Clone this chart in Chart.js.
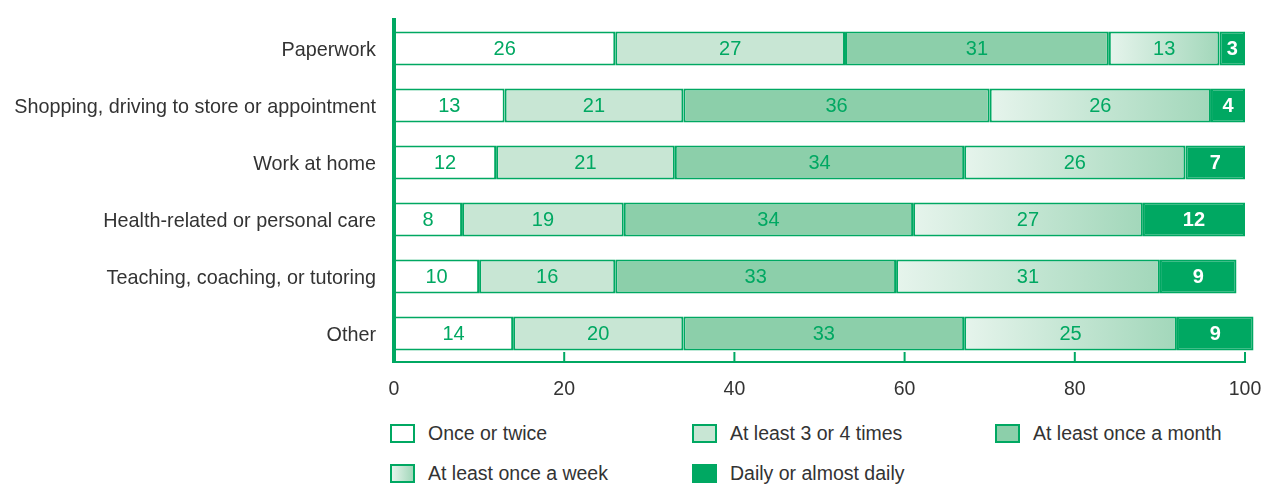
<!DOCTYPE html>
<html>
<head>
<meta charset="utf-8">
<script src="https://cdn.jsdelivr.net/npm/chart.js@4.4.1/dist/chart.umd.min.js"></script>
<style>
  body { margin: 0; background: #fff; }
  #wrap { position: relative; width: 1267px; height: 485px; overflow: hidden; }
  #chart { position: absolute; left: 0; top: 0; }
  #legend {
    position: absolute; left: 390px; top: 424px; width: 877px;
    display: grid; grid-template-columns: 302px 303px 272px; row-gap: 21px;
    font: 19.5px "Liberation Sans", Arial, sans-serif; color: #333;
  }
  .item { display: flex; align-items: center; height: 19px; white-space: nowrap; }
  .box { width: 21px; height: 15px; border: 2px solid #00a862; margin-right: 13px; flex: none; }
</style>
</head>
<body>
<div id="wrap">
  <canvas id="chart" width="1267" height="410"></canvas>
  <div id="legend"></div>
</div>
<script>
const categories = [
  "Paperwork",
  "Shopping, driving to store or appointment",
  "Work at home",
  "Health-related or personal care",
  "Teaching, coaching, or tutoring",
  "Other",
];
const seriesNames = [
  "Once or twice",
  "At least 3 or 4 times",
  "At least once a month",
  "At least once a week",
  "Daily or almost daily",
];
const onceOrTwice = [26, 13, 12, 8, 10, 14];
const threeOrFour = [27, 21, 21, 19, 16, 20];
const onceAMonth = [31, 36, 34, 34, 33, 33];
const onceAWeek = [13, 26, 26, 27, 31, 25];
const daily = [3, 4, 7, 12, 9, 9];
const xTicks = [0, 20, 40, 60, 80, 100];

const GREEN = "#00a862";
const TEXT = "#333333";
const FONT = '"Liberation Sans", Arial, sans-serif';

// horizontal light-to-darker fade inside each "once a week" segment
function weekGradient(ctx) {
  const chart = ctx.chart;
  const x = chart.scales.x;
  if (!x || ctx.type !== "data") return "#c4e5d2";
  const i = ctx.dataIndex;
  const start = onceOrTwice[i] + threeOrFour[i] + onceAMonth[i];
  const x0 = x.getPixelForValue(start);
  const x1 = x.getPixelForValue(start + onceAWeek[i]);
  if (!isFinite(x0) || !isFinite(x1)) return "#c4e5d2";
  const g = chart.ctx.createLinearGradient(x0, 0, x1, 0);
  g.addColorStop(0, "#e6f4ec");
  g.addColorStop(1, "#a2d7ba");
  return g;
}

const fills = ["#ffffff", "#c8e6d4", "#8ccfaa", weekGradient, GREEN];
const legendFills = ["#ffffff", "#c8e6d4", "#8ccfaa", "linear-gradient(to right, #e6f4ec, #a2d7ba)", GREEN];
const labelStyles = [
  { color: GREEN, weight: "normal" },
  { color: GREEN, weight: "normal" },
  { color: GREEN, weight: "normal" },
  { color: GREEN, weight: "normal" },
  { color: "#ffffff", weight: "bold" },
];
const seriesData = [onceOrTwice, threeOrFour, onceAMonth, onceAWeek, daily];

// Values written in the middle of every segment
const barLabels = {
  id: "barLabels",
  afterDatasetsDraw(chart) {
    const c = chart.ctx;
    chart.data.datasets.forEach((ds, di) => {
      const st = labelStyles[di];
      chart.getDatasetMeta(di).data.forEach((bar, i) => {
        const p = bar.getProps(["x", "y", "base"], true);
        c.save();
        c.font = `${st.weight} 20px ${FONT}`;
        c.fillStyle = st.color;
        c.textAlign = "center";
        c.textBaseline = "middle";
        c.fillText(ds.data[i], (p.x + p.base) / 2, p.y + 1);
        c.restore();
      });
    });
  },
};

// Short tick marks pointing up from the x axis
const upTicks = {
  id: "upTicks",
  afterDraw(chart) {
    const x = chart.scales.x;
    const c = chart.ctx;
    const bottom = chart.chartArea.bottom;
    c.save();
    c.strokeStyle = GREEN;
    c.lineWidth = 2;
    x.ticks.forEach((t) => {
      if (t.value === 0) return;
      const px = x.getPixelForValue(t.value);
      c.beginPath();
      c.moveTo(px, bottom);
      c.lineTo(px, bottom - 10);
      c.stroke();
    });
    c.restore();
  },
};

Chart.defaults.font.family = FONT;
Chart.defaults.font.size = 19.5;
Chart.defaults.color = TEXT;

new Chart(document.getElementById("chart"), {
  type: "bar",
  data: {
    labels: categories,
    datasets: seriesNames.map((name, k) => ({
      label: name,
      data: seriesData[k],
      backgroundColor: fills[k],
      borderColor: GREEN,
      borderWidth: 2,
      borderSkipped: false,
      categoryPercentage: 0.6,
      barPercentage: 1,
      clip: false,
    })),
  },
  options: {
    indexAxis: "y",
    responsive: false,
    animation: false,
    layout: { padding: { top: 20, right: 22, bottom: 0, left: 0 } },
    scales: {
      x: {
        stacked: true,
        min: 0,
        max: 100,
        afterBuildTicks: (s) => { s.ticks = xTicks.map((v) => ({ value: v })); },
        afterFit: (s) => {
          s.height = 48;
          s.paddingLeft = 0;
          s.paddingRight = 0;
        },
        grid: { display: false, drawTicks: false },
        border: { display: true, color: GREEN, width: 2 },
        ticks: { padding: 16, color: TEXT, maxRotation: 0 },
      },
      y: {
        stacked: true,
        afterFit: (s) => {
          s.width = 394;
          s.paddingTop = 0;
          s.paddingBottom = 0;
        },
        grid: { display: false, drawTicks: false },
        border: { display: true, color: GREEN, width: 4 },
        ticks: { padding: 18, color: TEXT, labelOffset: 2, font: { size: 19.8 } },
      },
    },
    plugins: {
      legend: { display: false },
      tooltip: { enabled: false },
    },
  },
  plugins: [barLabels, upTicks],
});

// Legend below the chart
const legend = document.getElementById("legend");
seriesNames.forEach((name, k) => {
  const item = document.createElement("div");
  item.className = "item";
  const box = document.createElement("span");
  box.className = "box";
  box.style.background = legendFills[k];
  item.appendChild(box);
  item.appendChild(document.createTextNode(name));
  legend.appendChild(item);
});
</script>
</body>
</html>
